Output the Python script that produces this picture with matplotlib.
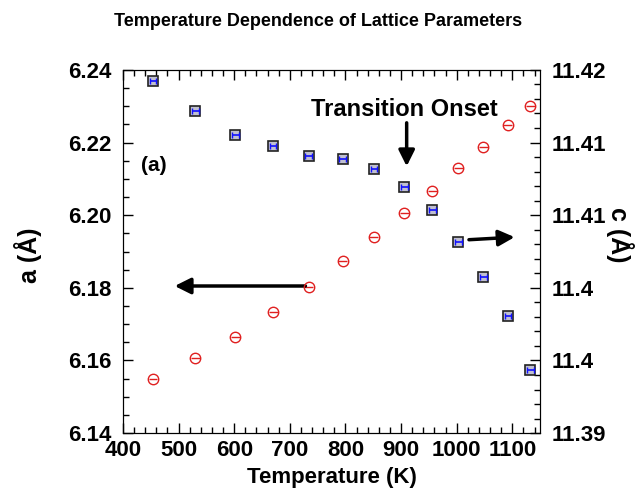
import numpy as np
import matplotlib
matplotlib.use("Agg")
import matplotlib.pyplot as plt
from matplotlib.ticker import AutoMinorLocator, FuncFormatter

plt.rcParams['font.family'] = ['Liberation Sans', 'DejaVu Sans']
plt.rcParams['font.weight'] = 'bold'

# Temperature (K)
temp = [454, 530, 602, 670, 734, 795, 851, 906, 956, 1003, 1048, 1092, 1132]
# lattice parameter a (left axis)
a_vals = [6.1549, 6.1607, 6.1665, 6.1734, 6.1801, 6.1873, 6.1941, 6.2005,
          6.2067, 6.2131, 6.2189, 6.2248, 6.2302]
a_err = [8] * 13
# lattice parameter c (right axis)
c_vals = [11.4191, 11.4166, 11.4146, 11.4137, 11.4129, 11.4126, 11.4118,
          11.4103, 11.4084, 11.4058, 11.4029, 11.3997, 11.3952]
c_err = [6] * 13

fig = plt.figure(figsize=(6.37, 5.03), dpi=100)
ax = fig.add_axes([0.193, 0.139, 0.655, 0.722])
ax2 = ax.twinx()

ax.errorbar(temp, a_vals, xerr=a_err, fmt='o', ms=7.5, mfc='none', mec='#e02020',
            mew=1.0, ecolor='#e02020', elinewidth=1.0, capsize=0, zorder=3)
# squares first, then the blue bars on top of them
ax2.plot(temp, c_vals, 's', ms=6.5, mfc='#c0c0d0', mec='#222222', mew=1.2, zorder=3)
ax2.errorbar(temp, c_vals, xerr=c_err, fmt='none', ecolor='#1010ff',
             elinewidth=1.2, capsize=2, capthick=1.0, zorder=4)

ax.set_xlim(400, 1150)
ax.set_ylim(6.14, 6.24)
ax2.set_ylim(11.39, 11.42)
ax.set_xticks(np.arange(400, 1101, 100))
ax.set_yticks(np.arange(6.14, 6.2401, 0.02))
ax.yaxis.set_major_formatter(FuncFormatter(lambda v, p: f'{v:.2f}'))
ax2.set_yticks(np.linspace(11.39, 11.42, 6))
ax2.yaxis.set_major_formatter(FuncFormatter(lambda v, p: f'{round(v, 2):g}'))
ax.xaxis.set_minor_locator(AutoMinorLocator(5))
ax.yaxis.set_minor_locator(AutoMinorLocator(4))
ax2.yaxis.set_minor_locator(AutoMinorLocator(5))

ax.tick_params(axis='x', which='both', direction='in', top=True, labelsize=16, pad=5)
ax.tick_params(axis='y', which='both', direction='in', labelsize=16, pad=8)
ax2.tick_params(axis='y', which='both', direction='in', labelsize=16, pad=8)
for a in (ax, ax2):
    a.tick_params(which='major', length=7, width=1)
    a.tick_params(which='minor', length=4, width=1)

ax.set_xlabel('Temperature (K)', fontsize=16, fontweight='bold', labelpad=4)
ax.set_ylabel('a (Å)', fontsize=18, fontweight='bold')
ax.yaxis.set_label_coords(-0.194, 0.49)
ax2.set_ylabel('c (Å)', fontsize=18, fontweight='bold', rotation=-90)
ax2.yaxis.set_label_coords(1.225, 0.545)
fig.suptitle('Temperature Dependence of Lattice Parameters', fontsize=13,
             fontweight='bold', y=0.975)

ax.text(432, 6.2136, '(a)', fontsize=15, fontweight='bold', ha='left', va='center')
ax.text(906, 6.2290, 'Transition Onset', fontsize=17, fontweight='bold', ha='center', va='center')

arrow = dict(arrowstyle='-|>', color='black', lw=2.5, mutation_scale=24)
ax.annotate('', xy=(488, 6.1805), xytext=(733, 6.1805), arrowprops=arrow)
ax.annotate('', xy=(1109, 6.1940), xytext=(1017, 6.1932), arrowprops=arrow)
ax.annotate('', xy=(910, 6.2127), xytext=(910, 6.2262), arrowprops=arrow)

fig.savefig('out.png', dpi=100)
